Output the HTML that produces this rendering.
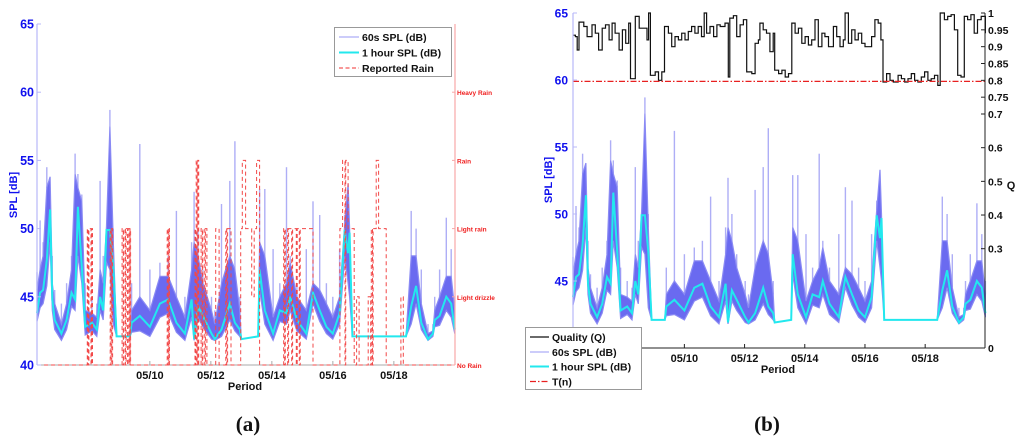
<!DOCTYPE html>
<html><head><meta charset="utf-8"><style>
html,body{margin:0;padding:0;background:#fff;}
svg{display:block;font-family:"Liberation Sans",sans-serif;}
</style></head><body>
<svg id="c" width="1024" height="443" viewBox="0 0 1024 443">
</svg>
<script>
const spT=[6.30,6.40,6.50,6.62,6.73,6.80,6.88,7.10,7.27,7.43,7.55,7.64,7.77,7.88,8.10,8.26,8.37,8.47,8.58,8.69,8.80,8.91,9.35,9.40,9.67,10.0,10.33,10.6,10.87,11.15,11.37,11.45,11.58,11.74,12.02,12.13,12.35,12.62,12.79,12.95,13.0,13.55,13.60,13.77,14.04,14.26,14.48,14.6,14.82,15.13,15.35,15.57,15.79,16.0,16.22,16.39,16.50,16.55,16.64,18.40,18.57,18.73,18.9,19.12,19.28,19.34,19.5,19.72,19.88,20.0];
const hourSPL=[43.8,45.3,45.5,47.7,51.4,44.8,43.3,42.3,43.3,45.3,44.8,51.6,47.2,42.8,43.1,42.6,45,44,49.9,49.9,47.2,42.1,42.1,43.1,43.6,42.8,44.5,44.8,43.1,42.3,44.8,41.9,44.3,43.6,42.3,41.9,42.6,44.5,43.1,42.6,41.9,42.1,47,44,42.3,44,43.8,45,43.3,42.3,45.3,44,42.8,42.3,43.8,49.9,48.2,49.7,42.1,42.1,44.3,45.8,43.1,41.9,42.3,43.3,43.6,45,44.5,42.6];
const spl60Hi=[45.5,47,48,53,53.8,46,44.5,43,44.5,47,54,53,52,44,43.8,43.5,47,46,50.2,57.5,49,42.1,42.1,44,45,44,46.5,46.5,45,43.5,47,49,48,46,44,43,46,48,47,44,41.9,42.1,49,48,43.5,45,46,47.5,45,44,46,45.5,44.5,43.5,45,50.3,53.3,50,42.1,42.1,48,48,44.5,42.3,42.5,44,45,46.5,46.5,44];
const spl60Peak=[46.8,50.6,49,54.5,54,48,45.5,44.5,46,48,55.5,54,52.5,46,45,44.5,53.5,48,50.3,58.7,50,42.1,42.1,46,56.2,47,47.5,48,51.3,45,49,52.7,50,47,45,44,51.8,53.5,56.4,45,41.9,42.1,52.9,52.9,48.5,46,54.5,48,46,48.5,52,51,46,45,48.5,51,53.3,50,42.1,42.1,51.3,50,47,43,43,45,47,50.8,48.5,45];
const spl60Lo=[43.2,44.2,44.5,45.8,49,44,42.6,41.8,42.6,44.3,44,48,46,42.2,42.5,42.1,44,43.3,47.5,47,43,42.1,42.1,42.4,42.5,42.1,43.5,43.8,42.4,41.8,43.5,41.8,43.5,42.8,41.9,41.8,42.1,43.3,42.5,42.1,41.9,42.1,45.5,43,41.8,43.2,43,44,42.5,41.9,44.5,43.2,42.3,41.9,43,48,46,45,42.1,42.1,43,44.5,42.6,41.8,42.1,42.8,42.9,44,43.5,42.3];
const rainT=[6.3,7.95,7.98,8.0,8.07,8.09,8.12,8.7,8.73,8.75,8.78,9.09,9.13,9.15,9.2,9.22,9.27,9.29,9.33,9.35,9.37,10.57,10.6,10.62,10.64,11.48,11.5,11.52,11.55,11.57,11.6,11.68,11.72,11.74,11.8,11.82,11.87,12.16,12.27,12.49,12.52,12.55,12.66,12.98,13.03,13.14,13.34,13.42,13.5,13.6,14.39,14.42,14.44,14.52,14.55,14.65,14.68,14.8,14.83,14.9,14.93,15.35,16.23,16.32,16.4,16.42,16.5,16.7,16.78,16.86,17.16,17.24,17.26,17.3,17.32,17.42,17.5,17.75,18.23,18.31,20];
const rainLevel=[0,2,0,2,0,2,0,2,0,2,0,2,0,2,0,2,0,2,0,2,0,2,0,2,0,2,0,3,0,3,0,2,0,2,0,2,0,2,0,2,0,2,0,2,3,2,1,2,3,0,2,0,2,0,2,0,2,0,2,0,2,0,2,3,0,3,2,0,1,0,1,0,2,0,2,3,2,0,1,0,0];
const rainLabels=["No Rain","Light drizzle","Light rain","Rain","Heavy Rain"];
const qT=[6.3,6.38,6.44,6.5,6.66,6.71,6.77,6.88,6.93,7.04,7.15,7.27,7.38,7.5,7.6,7.7,7.83,7.94,8.05,8.15,8.21,8.32,8.37,8.5,8.7,8.76,8.81,8.87,8.98,9.03,9.14,9.25,9.34,9.47,9.58,9.69,9.8,9.91,10.02,10.13,10.24,10.35,10.46,10.57,10.66,10.74,10.85,10.97,11.08,11.19,11.35,11.46,11.51,11.63,11.74,11.85,11.96,12.07,12.24,12.35,12.46,12.51,12.62,12.73,12.84,12.95,13.0,13.13,13.24,13.35,13.46,13.57,13.68,13.79,13.9,14.01,14.12,14.23,14.34,14.45,14.57,14.67,14.79,14.9,14.95,15.06,15.17,15.28,15.34,15.45,15.56,15.67,15.78,15.89,16.0,16.11,16.22,16.33,16.44,16.53,16.6,16.72,16.83,16.94,17.1,17.21,17.32,17.43,17.54,17.65,17.76,17.87,17.98,18.09,18.2,18.31,18.42,18.5,18.64,18.75,18.86,18.97,19.08,19.19,19.3,19.41,19.52,19.63,19.74,19.86,20.0];
const qVal=[0.934,0.93,0.89,0.973,0.96,0.96,0.93,0.93,0.965,0.94,0.89,0.955,0.965,0.92,0.97,0.94,0.89,0.95,0.91,0.97,0.805,0.805,0.99,0.955,0.955,0.92,1.0,0.815,0.815,0.825,0.8,0.825,0.96,0.94,0.9,0.93,0.92,0.94,0.92,0.945,0.96,0.94,0.96,0.93,1.0,0.94,0.96,0.93,0.965,0.96,0.97,0.81,0.985,0.992,0.93,0.965,0.98,0.825,0.82,0.91,0.92,0.97,0.95,0.94,0.885,0.94,0.83,0.82,0.83,0.81,0.82,0.97,0.94,0.955,0.91,0.93,0.905,0.92,0.98,0.9,0.94,0.93,0.9,0.9,0.96,0.93,0.9,0.92,1.0,0.91,0.95,0.92,0.94,0.91,0.9,0.9,0.93,0.98,0.97,0.92,0.795,0.82,0.8,0.795,0.815,0.805,0.795,0.805,0.82,0.8,0.795,0.81,0.825,0.8,0.805,0.815,0.785,1.0,0.98,0.99,0.995,0.95,0.815,0.81,0.99,0.98,0.995,0.94,0.98,0.99,0.94];
const qThreshold=0.797;
const dayTicks=[10,12,14,16,18];
const splTicksA=[40,45,50,55,60,65];
const splTicksB=[45,50,55,60,65];
const qTicks=[0,0.3,0.4,0.5,0.6,0.7,0.75,0.8,0.85,0.9,0.95,1];

const NS="http://www.w3.org/2000/svg";
const svg=document.getElementById('c');
function mk(tag,attrs,parent,text){const e=document.createElementNS(NS,tag);for(const k in attrs)e.setAttribute(k,attrs[k]);if(text!==undefined)e.textContent=text;(parent||svg).appendChild(e);return e;}
const xa=d=>37+(d-6.3)*30.5;
const ya=v=>365-(v-40)*13.64;
const xb=d=>573+(d-6.3)*30.1;
const yb=v=>348-(v-40)*13.4;
const yq=q=>q>=0.3?13+(1-q)*336.7:248+(0.3-q)/0.3*100;
const yr=l=>365-l*68.2;

function panel(id,X,Y,rain){
  const g=mk('g',{});
  
  
  // light spikes
  spT.forEach((t,i)=>{
    if(spl60Peak[i]-spl60Hi[i]<0.3)return;
    const s=mk('line',{x1:X(t).toFixed(1),x2:X(t).toFixed(1),y1:Y(spl60Hi[i]).toFixed(1),y2:Y(spl60Peak[i]).toFixed(1),stroke:'#aeaef6','stroke-width':1.4},g);
    
    
  });
  let p='';
  spT.forEach((t,i)=>p+=(i?'L':'M')+X(t).toFixed(1)+','+Y(spl60Hi[i]).toFixed(1));
  for(let i=spT.length-1;i>=0;i--)p+='L'+X(spT[i]).toFixed(1)+','+Y(spl60Lo[i]).toFixed(1);
  const db=mk('path',{d:p+'Z',fill:'#6a6af0',stroke:'#8a8af4','stroke-width':1.2},g);
  
  
  p='';
  spT.forEach((t,i)=>p+=(i?'L':'M')+X(t).toFixed(1)+','+Y(hourSPL[i]).toFixed(1));
  const hl=mk('path',{d:p,fill:'none',stroke:'#22e8ee','stroke-width':2},g);
  
  
  if(rain){
    p='';
    rainT.forEach((t,i)=>{const x=X(t).toFixed(1);if(i===0)p+='M'+x+','+yr(rainLevel[i]);else p+='L'+x+','+yr(rainLevel[i-1])+'L'+x+','+yr(rainLevel[i]);});
    const rl=mk('path',{d:p,fill:'none',stroke:'#f24848','stroke-width':1,'stroke-dasharray':'4,3'},g);
    
    
  }
}
// ---------- Panel A ----------
mk('line',{x1:37,y1:365,x2:455,y2:365,stroke:'#aaa','stroke-width':1});
panel('panel-a',xa,ya,true);
mk('line',{x1:37,y1:24,x2:37,y2:365,stroke:'#b8b8f8','stroke-width':1.2});
mk('line',{x1:455,y1:24,x2:455,y2:365,stroke:'#f8a8a8','stroke-width':1.2});
splTicksA.forEach(v=>{
  mk('line',{x1:37,y1:ya(v),x2:41,y2:ya(v),stroke:'#b8b8f8'});
  const t=mk('text',{x:34,y:ya(v)+4.5,'text-anchor':'end','font-size':12.5,'font-weight':'bold',fill:'#1010ee'},svg,String(v));
  
  
});
rainLabels.forEach((s,i)=>{
  mk('line',{x1:452,y1:yr(i),x2:455,y2:yr(i),stroke:'#f8a8a8'});
  const t=mk('text',{x:457,y:yr(i)+3,'font-size':6.5,'font-weight':'bold',fill:'#f02020'},svg,s);
  
  
});
dayTicks.forEach(d=>{
  mk('line',{x1:xa(d),y1:365,x2:xa(d),y2:361,stroke:'#aaa'});
  const t=mk('text',{x:xa(d),y:379,'text-anchor':'middle','font-size':11,'font-weight':'bold',fill:'#111'},svg,'05/'+d);
  
  
});
</script>
<script>
(function(){
const NS="http://www.w3.org/2000/svg";const svg=document.getElementById('c');
function mk(tag,attrs,text){const e=document.createElementNS(NS,tag);for(const k in attrs)e.setAttribute(k,attrs[k]);if(text!==undefined)e.textContent=text;svg.appendChild(e);return e;}
let t;
t=mk('text',{x:245,y:390,'text-anchor':'middle','font-size':11,'font-weight':'bold',fill:'#111'},'Period');


t=mk('text',{x:17,y:195,'text-anchor':'middle','font-size':11,'font-weight':'bold',fill:'#1010ee',transform:'rotate(-90 17 195)'},'SPL [dB]');


t=mk('text',{x:248,y:431,'text-anchor':'middle','font-size':21,'font-weight':'bold','font-family':'Liberation Serif,serif',fill:'#111'},'(a)');


const lg=mk('rect',{x:334.5,y:27.5,width:117,height:49,fill:'#fff',stroke:'#999'});


mk('line',{x1:339,y1:37,x2:359,y2:37,stroke:'#9a9af6','stroke-width':1});
mk('line',{x1:339,y1:52.5,x2:359,y2:52.5,stroke:'#22e8ee','stroke-width':2});
mk('line',{x1:339,y1:68,x2:359,y2:68,stroke:'#f03030','stroke-width':1,'stroke-dasharray':'4,2.5'});
[['60s SPL (dB)',41],['1 hour SPL (dB)',56.5],['Reported Rain',72]].forEach(a=>{
  const e=mk('text',{x:362,y:a[1],'font-size':10.5,'font-weight':'bold',fill:'#111'},a[0]);
  
  
});
})();
</script>
<script>
// ---------- Panel B ----------
mk('line',{x1:573,y1:348,x2:985,y2:348,stroke:'#222','stroke-width':1});
panel('panel-b',xb,yb,false);
(function(){
  let p='';
  qT.forEach((t,i)=>{const x=xb(t).toFixed(1);if(i===0)p+='M'+x+','+yq(qVal[i]).toFixed(1);else p+='L'+x+','+yq(qVal[i-1]).toFixed(1)+'L'+x+','+yq(qVal[i]).toFixed(1);});
  const ql=mk('path',{d:p,fill:'none',stroke:'#111','stroke-width':1.2});
  
  
  const th=mk('line',{x1:573,y1:yq(qThreshold),x2:985,y2:yq(qThreshold),stroke:'#e82020','stroke-width':1.2,'stroke-dasharray':'6,2,1.5,2'});
  
  
})();
mk('line',{x1:573,y1:13,x2:573,y2:348,stroke:'#b8b8f8','stroke-width':1.2});
mk('line',{x1:985,y1:13,x2:985,y2:348,stroke:'#222','stroke-width':1});
splTicksB.forEach(v=>{
  mk('line',{x1:573,y1:yb(v),x2:577,y2:yb(v),stroke:'#b8b8f8'});
  const t=mk('text',{x:568,y:yb(v)+4.5,'text-anchor':'end','font-size':12,'font-weight':'bold',fill:'#1010ee'},svg,String(v));
  
  
});
qTicks.forEach(q=>{
  mk('line',{x1:981,y1:yq(q),x2:985,y2:yq(q),stroke:'#222'});
  const t=mk('text',{x:988,y:yq(q)+4,'font-size':10.5,'font-weight':'bold',fill:'#111'},svg,String(q));
  
  
});
dayTicks.forEach(d=>{
  mk('line',{x1:xb(d),y1:348,x2:xb(d),y2:344,stroke:'#222'});
  const t=mk('text',{x:xb(d),y:362,'text-anchor':'middle','font-size':11,'font-weight':'bold',fill:'#111'},svg,'05/'+d);
  
  
});
(function(){
let t;
t=mk('text',{x:778,y:373,'text-anchor':'middle','font-size':11,'font-weight':'bold',fill:'#111'},svg,'Period');


t=mk('text',{x:552,y:180,'text-anchor':'middle','font-size':11,'font-weight':'bold',fill:'#1010ee',transform:'rotate(-90 552 180)'},svg,'SPL [dB]');


t=mk('text',{x:1011,y:189,'text-anchor':'middle','font-size':11,'font-weight':'bold',fill:'#111'},svg,'Q');


t=mk('text',{x:767,y:431,'text-anchor':'middle','font-size':21,'font-weight':'bold','font-family':'Liberation Serif,serif',fill:'#111'},svg,'(b)');


const lg=mk('rect',{x:525.5,y:327.5,width:116,height:62,fill:'#fff',stroke:'#999'});


mk('line',{x1:530,y1:337,x2:549,y2:337,stroke:'#111','stroke-width':1.3});
mk('line',{x1:530,y1:352,x2:549,y2:352,stroke:'#9a9af6','stroke-width':1});
mk('line',{x1:530,y1:366.5,x2:549,y2:366.5,stroke:'#22e8ee','stroke-width':2});
mk('line',{x1:530,y1:381.5,x2:549,y2:381.5,stroke:'#e82020','stroke-width':1.2,'stroke-dasharray':'6,2,1.5,2'});
[['Quality (Q)',341],['60s SPL (dB)',356],['1 hour SPL (dB)',370.5],['T(n)',385.5]].forEach(a=>{
  const e=mk('text',{x:552,y:a[1],'font-size':10.5,'font-weight':'bold',fill:'#111'},svg,a[0]);
  
  
});
})();
</script>
</body></html>
